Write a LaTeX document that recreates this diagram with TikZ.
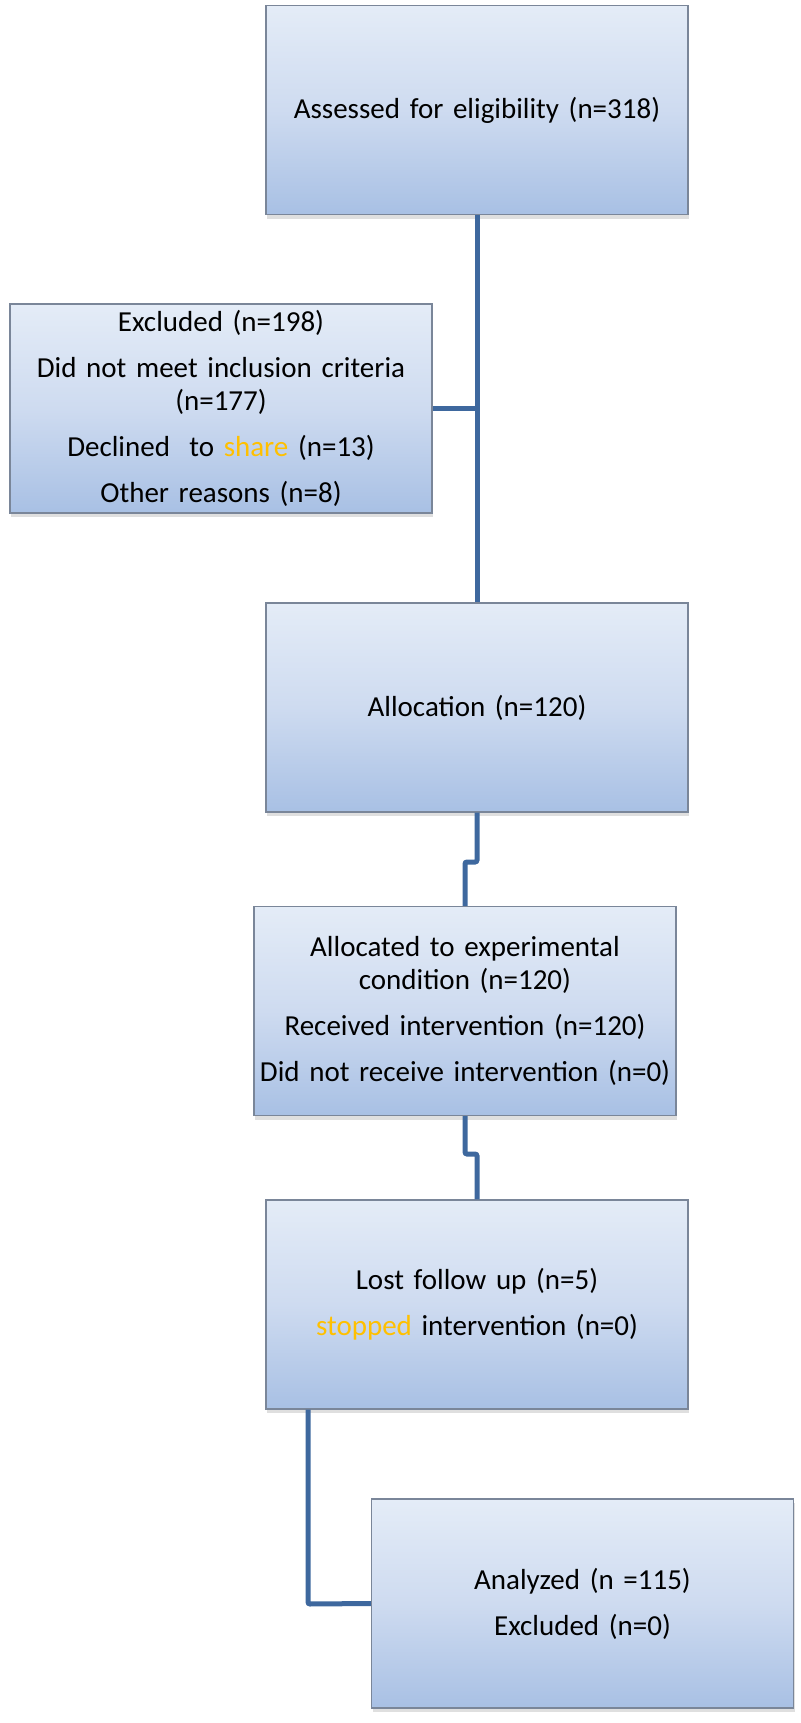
\documentclass[tikz,border=0pt]{standalone}
\usepackage{fontspec}
\setmainfont{Carlito}
\usetikzlibrary{shadows}
\definecolor{linec}{RGB}{62,104,158}
\definecolor{boxedge}{RGB}{122,134,153}
\definecolor{topc}{RGB}{228,236,247}
\definecolor{midc}{RGB}{206,219,240}
\definecolor{botc}{RGB}{168,192,228}
\definecolor{gold}{RGB}{255,192,0}
\tikzset{
  fbox/.style={rectangle, draw=boxedge, line width=1.3pt, top color=topc, bottom color=botc, middle color=midc,
    minimum width=422pt, minimum height=209pt, text width=421pt, align=center, inner sep=0pt,
    font=\fontsize{29}{33}\selectfont,
    drop shadow={opacity=0.25, shadow xshift=1pt, shadow yshift=-4pt}},
  conn/.style={draw=linec, line width=5pt, rounded corners=2pt}
}
\begin{document}
\begin{tikzpicture}[x=1pt,y=-1pt]
\useasboundingbox (0,0) rectangle (800,1723);
\node[fbox] (a) at (477,110) {Assessed for eligibility (n=318)};
\node[fbox] (excl) at (221,408.5) {Excluded (n=198)\\[13pt]Did not meet inclusion criteria\\(n=177)\\[13pt]Declined\ \ to \textcolor{gold}{share} (n=13)\\[13pt]Other reasons (n=8)};
\node[fbox] (alloc) at (477,707.5) {Allocation (n=120)};
\node[fbox] (alloc2) at (465,1011) {Allocated to experimental\\condition (n=120)\\[13pt]Received intervention (n=120)\\[13pt]Did not receive intervention (n=0)};
\node[fbox] (lost) at (477,1304.5) {Lost follow up (n=5)\\[13pt]\textcolor{gold}{stopped} intervention (n=0)};
\node[fbox] (ana) at (582.5,1603.5) {Analyzed (n =115)\\[13pt]Excluded (n=0)};
\coordinate (j1) at (477,862);
\coordinate (j2) at (465,1154);
\coordinate (j3) at (308,1604);
\draw[conn] (a.south) -- (alloc.north);
\draw[conn] (excl.east) -- (excl.east -| a.south);
\draw[conn] (alloc.south) -- (j1) -| (alloc2.north);
\draw[conn] (alloc2.south) -- (j2) -| (lost.north);
\draw[conn] (lost.south -| j3) -- (j3) -- (ana.west);
\end{tikzpicture}
\end{document}
